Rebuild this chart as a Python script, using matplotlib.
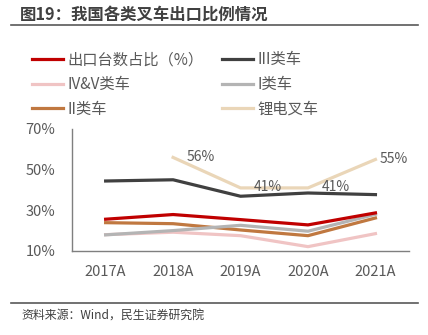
import matplotlib.pyplot as plt
import numpy as np

plt.rcParams['font.family'] = ['Noto Sans CJK SC', 'DejaVu Sans']

years = ["2017A", "2018A", "2019A", "2020A", "2021A"]
export_share = [25.6, 27.9, 25.4, 22.8, 28.7]
class3 = [44.4, 45.0, 36.9, 38.5, 37.7]
class45 = [18.0, 19.2, 17.5, 12.1, 18.5]
class1 = [17.9, 20.0, 22.6, 19.7, 28.0]
class2 = [23.9, 23.4, 20.3, 17.5, 26.2]
lithium = [np.nan, 56.0, 41.0, 41.0, 55.0]
lithium_labels = ["", "56%", "41%", "41%", "55%"]

fig = plt.figure(figsize=(4.28, 3.35), dpi=100)
ax = fig.add_axes([0.168, 0.251, 0.788, 0.364])

x = np.arange(len(years))
lw = 2.3
l1, = ax.plot(x, export_share, color="#C00000", lw=lw, zorder=6, label="出口台数占比（%）")
l2, = ax.plot(x, class3, color="#404040", lw=lw, zorder=5, label="III类车")
l3, = ax.plot(x, class45, color="#F0C4C4", lw=lw, zorder=2, label="IV&V类车")
l4, = ax.plot(x, class1, color="#B4B4B4", lw=lw, zorder=4, label="I类车")
l5, = ax.plot(x, class2, color="#C07840", lw=lw, zorder=3, label="II类车")
l6, = ax.plot(x, lithium, color="#EAD6B8", lw=lw, zorder=1, label="锂电叉车")

# data labels sit to the right of the point; the last one hugs the line end
for xi, v, t in zip(x, lithium, lithium_labels):
    if t:
        dx = 0.06 if xi == x[-1] else 0.2
        ax.text(xi + dx, v + 0.3, t, fontsize=10, color="#595959",
                ha="left", va="center", zorder=7)

ax.set_xlim(-0.5, 4.5)
ax.set_ylim(10, 70)
ax.set_yticks([10, 30, 50, 70])
ax.set_yticklabels(["10%", "30%", "50%", "70%"])
ax.set_xticks(x)
ax.set_xticklabels(years)
ax.tick_params(axis="both", length=0, labelsize=10.5, colors="#595959")
ax.tick_params(axis="x", pad=10)
ax.tick_params(axis="y", pad=12)
for s in ["top", "right"]:
    ax.spines[s].set_visible(False)
for s in ["left", "bottom"]:
    ax.spines[s].set_color("#7F7F7F")
    ax.spines[s].set_linewidth(1.0)

# legend filled row by row: (出口, III), (IV&V, I), (II, 锂电)
fig.legend(handles=[l1, l3, l5, l2, l4, l6], ncol=2, loc="upper left",
           bbox_to_anchor=(0.075, 0.847), frameon=False, fontsize=11,
           handlelength=2.0, handletextpad=0.3, columnspacing=1.25,
           labelspacing=0.5, borderpad=0, borderaxespad=0,
           labelcolor="#595959")

fig.text(0.047, 0.955, "图19：我国各类叉车出口比例情况", fontsize=11.8,
         fontweight="bold", color="#404040", ha="left", va="center")
fig.add_artist(plt.Line2D([0.026, 0.977], [0.926, 0.926], color="#595959", lw=1.2))
fig.add_artist(plt.Line2D([0.026, 0.977], [0.096, 0.096], color="#595959", lw=1.2))
fig.text(0.049, 0.06, "资料来源：Wind，民生证券研究院", fontsize=8.6,
         color="#404040", ha="left", va="center")

fig.savefig("out.png", dpi=100)
